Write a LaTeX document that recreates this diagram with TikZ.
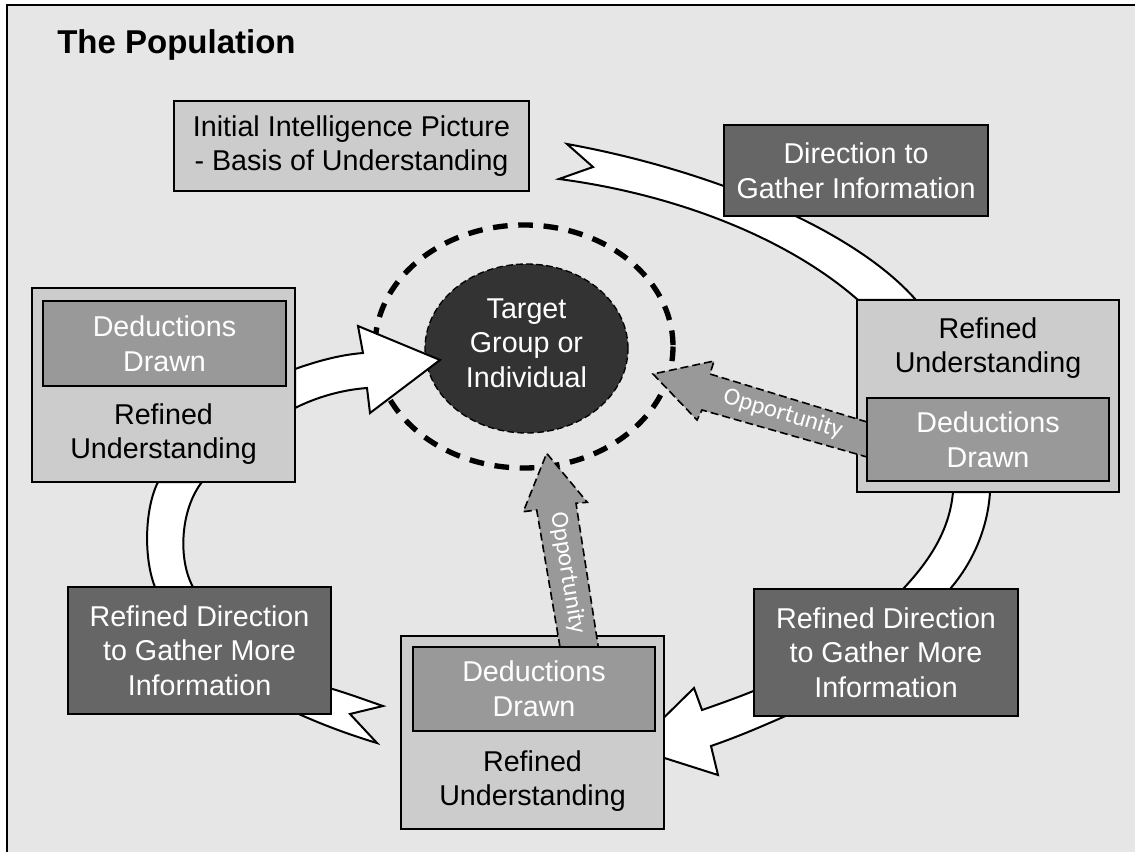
\documentclass[tikz,border=0pt]{standalone}
\usepackage{fontspec}
\setmainfont{Liberation Sans}
\newfontfamily\oppfont{Carlito}
\usepackage{tikz}
\usetikzlibrary{shapes.geometric}

\definecolor{bgfill}{HTML}{E6E6E6}
\definecolor{boxlite}{HTML}{CCCCCC}
\definecolor{boxmid}{HTML}{999999}
\definecolor{boxdark}{HTML}{666666}
\definecolor{targetfill}{HTML}{333333}
\newcommand{\boxfont}{\fontsize{21.5}{26}\selectfont}

\begin{document}
\begin{tikzpicture}[x=0.75pt,y=-0.75pt,
	outerbox/.style={draw, line width=1.8pt, fill=boxlite, inner sep=0pt},
	dedbox/.style={draw, line width=1.8pt, fill=boxmid, text=white, inner sep=0pt, align=center, font=\boxfont},
	darkbox/.style={draw, line width=1.8pt, fill=boxdark, text=white, inner sep=0pt, align=center, font=\boxfont},
	plaintext/.style={inner sep=0pt, align=center, font=\boxfont},
	band/.style={draw, fill=white, line width=1.5pt},
	opparrow/.style={draw, fill=boxmid, line width=1.2pt, dash pattern=on 6pt off 3pt},
	opptext/.style={text=white, inner sep=0pt, font=\oppfont\fontsize{18.5}{20}\selectfont}]

\useasboundingbox (0,0) rectangle (1135,852);
\fill[bgfill] (7,5) rectangle (1135,852);
\draw[line width=1.5pt] (7,852)--(7,5)--(1135,5);

\node[anchor=base west, inner sep=0pt, font=\bfseries\fontsize{24.75}{30}\selectfont] (title) at (57,54) {The Population};

\draw[line width=4pt, dash pattern=on 11pt off 8pt] (524,346.5) ellipse [x radius=149, y radius=121.5];
\node[ellipse, draw, fill=targetfill, line width=1pt, dash pattern=on 5pt off 2.5pt, minimum width=152.25pt, minimum height=126.75pt, inner sep=0pt] (target) at (526.5,348.5) {};
\node[plaintext, text=white] (targettext) at (526.5,343) {Target\\Group or\\Individual};

\draw[band] (567,144) .. controls (700,168) and (850,225) .. (916,300)--(858,300) .. controls (790,240) and (680,195) .. (559,179)--(593,167)--cycle;
\draw[band] (953,492) .. controls (950,525) and (935,555) .. (903,589)--(950,589) .. controls (975,560) and (988,525) .. (990,492)--cycle;
\draw[band] (770,684) .. controls (750,693) and (725,702) .. (702,710)--(694,688)--(633,748)--(718,775)--(711,746) .. controls (740,736) and (765,725) .. (790,714)--cycle;
\draw[band] (383,706) .. controls (365,700) and (345,692) .. (315,684)--(290,710) .. controls (320,724) and (350,735) .. (377,743)--(350,714)--cycle;
\draw[band] (155,587) .. controls (144,560) and (144,510) .. (158,482)--(202,482) .. controls (180,510) and (178,560) .. (193,587)--cycle;
\draw[band] (295,369) .. controls (315,362) and (338,355) .. (363,353)--(358,326)--(440,360)--(370,413)--(367,388) .. controls (340,390) and (315,398) .. (295,408)--cycle;

\node[outerbox, minimum width=266.25pt, minimum height=67.5pt, align=center, font=\boxfont] (initial) at (351.5,146) {Initial Intelligence Picture\\- Basis of Understanding};
\node[darkbox, minimum width=198pt, minimum height=68.25pt] (direction) at (856,170.5) {Direction to\\Gather Information};

\node[outerbox, minimum width=197.25pt, minimum height=145.5pt] (leftbox) at (163.5,385) {};
\node[dedbox, minimum width=182.25pt, minimum height=63.75pt] (leftded) at (164.5,343.5) {Deductions\\Drawn};
\node[plaintext] (leftref) at (163.5,434) {Refined\\Understanding};

\node[outerbox, minimum width=196.5pt, minimum height=144pt] (rightbox) at (988,396) {};
\draw[opparrow] (867,422)--(710,374)--(714,361)--(653,374)--(697,420)--(702,410)--(867,457);
\node[dedbox, minimum width=181.5pt, minimum height=62.25pt] (rightded) at (988,439.5) {Deductions\\Drawn};
\node[plaintext] (rightref) at (988,348) {Refined\\Understanding};
\node[opptext, rotate=-16.5] (oppright) at (783,414) {Opportunity};

\node[outerbox, minimum width=197.25pt, minimum height=144.75pt] (bottombox) at (532.5,732.5) {};
\draw[opparrow] (560,647)--(536.7,510)--(523.3,511.7)--(546.7,453.3)--(587.3,502.3)--(576,503.3)--(598.3,647);
\node[dedbox, minimum width=181.5pt, minimum height=63pt] (bottomded) at (534,689) {Deductions\\Drawn};
\node[plaintext] (bottomref) at (532.5,781) {Refined\\Understanding};
\node[opptext, rotate=-80.6] (oppbottom) at (567.5,573) {Opportunity};

\node[darkbox, minimum width=197.25pt, minimum height=95.25pt] (leftdir) at (199.5,650.5) {Refined Direction\\to Gather More\\Information};
\node[darkbox, minimum width=198pt, minimum height=95.25pt] (rightdir) at (886,652.5) {Refined Direction\\to Gather More\\Information};

\end{tikzpicture}
\end{document}
